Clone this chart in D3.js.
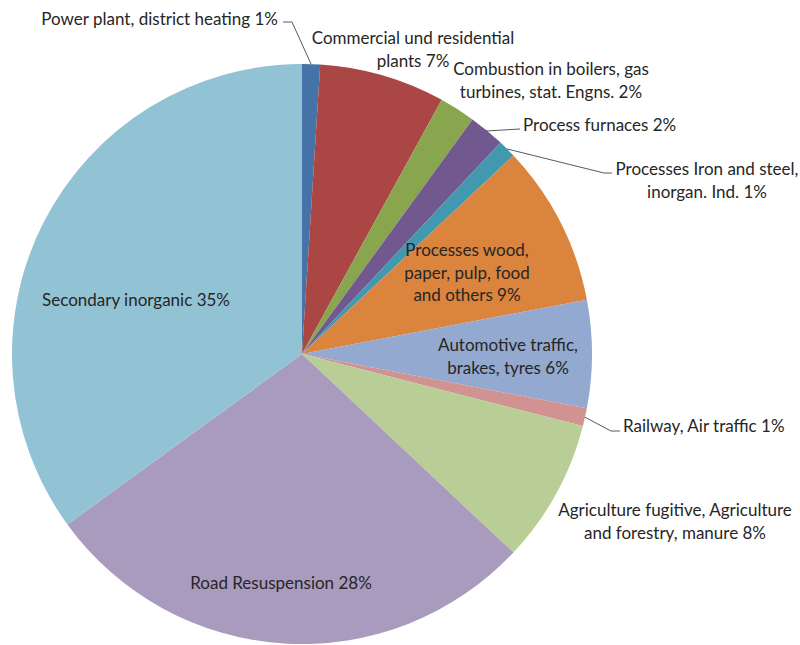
<!DOCTYPE html>
<html><head><meta charset="utf-8">
<script src="https://cdn.jsdelivr.net/npm/d3@7"></script>
<style>body{margin:0;background:#fff}svg{display:block}</style>
</head><body>
<svg id="c" width="800" height="645"></svg>
<script>
const categories = [
  "Power plant, district heating",
  "Commercial und residential plants",
  "Combustion in boilers, gas turbines, stat. Engns.",
  "Process furnaces",
  "Processes Iron and steel, inorgan. Ind.",
  "Processes wood, paper, pulp, food and others",
  "Automotive traffic, brakes, tyres",
  "Railway, Air traffic",
  "Agriculture fugitive, Agriculture and forestry, manure",
  "Road Resuspension",
  "Secondary inorganic"
];
const values = [1, 7, 2, 2, 1, 9, 6, 1, 8, 28, 35];
const labelLines = [
  ["Power plant, district heating 1%"],
  ["Commercial und residential", "plants 7%"],
  ["Combustion in boilers, gas", "turbines, stat. Engns. 2%"],
  ["Process furnaces 2%"],
  ["Processes Iron and steel,", "inorgan. Ind. 1%"],
  ["Processes wood,", "paper, pulp, food", "and others 9%"],
  ["Automotive traffic,", "brakes, tyres 6%"],
  ["Railway, Air traffic 1%"],
  ["Agriculture fugitive, Agriculture", "and forestry, manure 8%"],
  ["Road Resuspension 28%"],
  ["Secondary inorganic 35%"]
];
const colors = ["#4572A7","#AA4643","#89A54E","#71588F","#4198AF","#DB843D","#93A9CF","#D19392","#B9CD96","#A99BBD","#92C3D4"];

// layout (label anchors), separate from data
const layout = [
  {x:278, y:25, anchor:"end", leader:[[283,22],[292,22]]},
  {x:413, y:44, anchor:"middle"},
  {x:551, y:75, anchor:"middle"},
  {x:523, y:131, anchor:"start", leader:[[520,129],[486,131]]},
  {x:707, y:175, anchor:"middle", leader:[[612,173],[604,173]]},
  {x:467, y:256, anchor:"middle", inside:true},
  {x:508, y:351, anchor:"middle", inside:true},
  {x:623, y:432, anchor:"start", leader:[[620,431],[611,431]]},
  {x:675, y:516, anchor:"middle"},
  {x:281, y:589, anchor:"middle", inside:true},
  {x:136, y:306, anchor:"middle", inside:true}
];

const cx = 302, cy = 354, R = 290;
const svg = d3.select("#c");
const g = svg.append("g").attr("transform", `translate(${cx},${cy})`);
const pie = d3.pie().sort(null).value(d => d)(values);
const arc = d3.arc().innerRadius(0).outerRadius(R);
g.selectAll("path").data(pie).join("path")
  .attr("d", arc).attr("fill", (d,i) => colors[i]);

const edge = d3.arc().innerRadius(R).outerRadius(R);
layout.forEach((L, i) => {
  if (!L.leader) return;
  const c = edge.centroid(pie[i]);
  const pts = [[L.leader[0][0], L.leader[0][1]], [L.leader[1][0], L.leader[1][1]], [c[0] + cx, c[1] + cy]];
  svg.append("path")
    .attr("d", d3.line()(pts))
    .attr("fill", "none").attr("stroke", "#595959").attr("stroke-width", 1);
});

layout.forEach((L, i) => {
  const t = svg.append("text")
    .attr("x", L.x).attr("y", L.y)
    .attr("text-anchor", L.anchor)
    .attr("font-family", "Lato, 'Open Sans', sans-serif")
    .attr("font-size", 17)
    .attr("fill", "#262626");
  labelLines[i].forEach((s, k) => {
    t.append("tspan").attr("x", L.x).attr("dy", k === 0 ? 0 : 22.5).text(s);
  });
});
</script>
</body></html>
